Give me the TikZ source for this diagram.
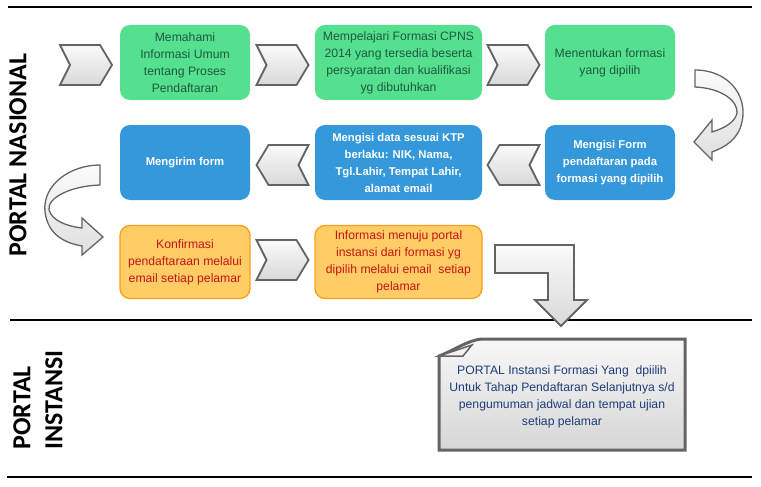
\documentclass[tikz,border=0pt]{standalone}
\usepackage{fontspec}
\usetikzlibrary{calc}
\setmainfont{Liberation Sans}
\newfontfamily\labfont{Carlito}
\definecolor{gfill}{RGB}{85,224,144}
\definecolor{gtext}{RGB}{30,90,60}
\definecolor{bfill}{RGB}{52,152,219}
\definecolor{ofill}{RGB}{255,204,102}
\definecolor{oline}{RGB}{250,160,30}
\definecolor{otext}{RGB}{200,20,20}
\definecolor{ntext}{RGB}{30,60,120}
\definecolor{shline}{RGB}{100,100,100}
\tikzset{
  box/.style={rounded corners=10pt, minimum height=75pt, align=center, inner sep=2pt},
  greenbox/.style={box, fill=gfill, text=gtext, font=\fontsize{12.2}{17}\selectfont},
  bluebox/.style={box, fill=bfill, text=white, font=\bfseries\fontsize{11.3}{17}\selectfont},
  orangebox/.style={box, fill=ofill, draw=oline, line width=1.3pt, text=otext, minimum height=73pt, font=\fontsize{12.2}{17}\selectfont},
  shape3d/.style={draw=shline, line width=1.8pt, top color=gray!4, bottom color=gray!30, line join=miter},
  curvy/.style={draw=shline, line width=1.3pt, top color=gray!3, bottom color=gray!25},
  sepline/.style={line width=1.2pt, black},
  chevR/.pic={\path[shape3d] (-26,-20) -- (14,-20) -- (26,0) -- (14,20) -- (-26,20) -- (-16,0) -- cycle;},
  chevL/.pic={\path[shape3d] (26,-20) -- (-14,-20) -- (-26,0) -- (-14,20) -- (26,20) -- (16,0) -- cycle;}
}
\begin{document}
\begin{tikzpicture}[x=1pt,y=-1pt]
\useasboundingbox (0,0) rectangle (761,487);
% separator lines
\draw[sepline] (8,7) -- (752,7);
\draw[sepline] (10,320) -- (752,320);
\draw[sepline] (7,477) -- (752,477);
% lane labels
\node[rotate=90, font=\labfont\bfseries\fontsize{26}{32}\selectfont, inner sep=0pt] (lblnas) at (18,155) {PORTAL NASIONAL};
\node[rotate=90, font=\labfont\bfseries\fontsize{26}{32}\selectfont, align=left, inner sep=0pt] (lblins) at (38,400) {PORTAL\\INSTANSI};
% row 1
\node[greenbox, minimum width=130pt] (g1) at (185,62.5) {Memahami\\Informasi Umum\\tentang Proses\\Pendaftaran};
\node[greenbox, minimum width=167pt] (g2) at (398.5,62.5) {Mempelajari Formasi CPNS\\2014 yang tersedia beserta\\persyaratan dan kualifikasi\\yg dibutuhkan};
\node[greenbox, minimum width=130pt] (g3) at (610,62.5) {Menentukan formasi\\yang dipilih};
% row 2
\node[bluebox, minimum width=130pt] (b1) at (185,162.5) {Mengirim form};
\node[bluebox, minimum width=167pt] (b2) at (398.5,162.5) {Mengisi data sesuai KTP\\berlaku: NIK, Nama,\\Tgl.Lahir, Tempat Lahir,\\alamat email};
\node[bluebox, minimum width=130pt] (b3) at (610,162.5) {Mengisi Form\\pendaftaran pada\\formasi yang dipilih};
% row 3
\node[orangebox, minimum width=130pt] (o1) at (185,262) {Konfirmasi\\pendaftaraan melalui\\email setiap pelamar};
\node[orangebox, minimum width=167pt] (o2) at (398.5,262) {Informasi menuju portal\\instansi dari formasi yg\\dipilih melalui email~ setiap\\pelamar};
% chevrons
\coordinate (start) at (86,65);
\pic at (start) {chevR};
\pic at ($(g1.east)!0.5!(g2.west)+(0,2.5)$) {chevR};
\pic at ($(g2.east)!0.5!(g3.west)+(0,2.5)$) {chevR};
\pic at ($(b1.east)!0.5!(b2.west)+(0,2.5)$) {chevL};
\pic at ($(b2.east)!0.5!(b3.west)+(0,2.5)$) {chevL};
\pic at ($(o1.east)!0.5!(o2.west)-(0,2)$) {chevR};
% curved arrow right (row1 -> row2)
\path[curvy] (695,70) .. controls (728,70) and (748,95) .. (742,122)
  .. controls (738,140) and (725,147) .. (712,152) -- (712,160) -- (694,142) -- (712,120) -- (712,132)
  .. controls (725,128) and (735,122) .. (737,113)
  .. controls (738,100) and (720,88) .. (695,87) -- cycle;
% curved arrow left (row2 -> row3)
\path[curvy] (100,165) .. controls (70,165) and (42,185) .. (45,212)
  .. controls (48,235) and (65,243) .. (82,246) -- (82,255) -- (103,237) -- (82,218) -- (82,228)
  .. controls (65,226) and (52,220) .. (49,210)
  .. controls (47,198) and (70,186) .. (100,185) -- cycle;
% bent arrow down
\path[shape3d] (495,245) -- (574,245) -- (574,300) -- (587,300) -- (561,326) -- (535,300) -- (548,300) -- (548,273) -- (495,273) -- cycle;
% note
\path[draw=shline, line width=3pt, top color=gray!6, bottom color=gray!32]
  (439,356) .. controls (455,350) and (468,340) .. (482,339) -- (685,339) -- (685,450) -- (439,450) -- cycle;
\path[draw=shline, line width=1.5pt, fill=gray!10] (439,356) -- (472,345) -- (463,356) -- cycle;
\node[text=ntext, align=center, font=\fontsize{12.2}{17}\selectfont] (note) at (562,397) {PORTAL Instansi Formasi Yang~ dpiilih\\Untuk Tahap Pendaftaran Selanjutnya s/d\\pengumuman jadwal dan tempat ujian\\setiap pelamar};
\end{tikzpicture}
\end{document}
